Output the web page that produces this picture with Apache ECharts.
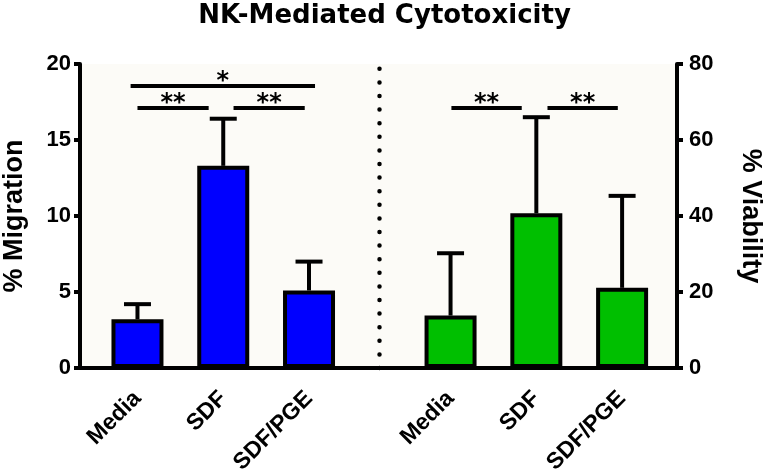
<!DOCTYPE html>
<html>
<head>
<meta charset="utf-8">
<script src="https://cdn.jsdelivr.net/npm/echarts@6/dist/echarts.min.js"></script>
<style>html,body{margin:0;padding:0;background:#fff}#c{width:769px;height:476px}</style>
</head>
<body>
<div id="c"></div>
<script>
const titleText = 'NK-Mediated Cytotoxicity';
const categories = ['Media', 'SDF', 'SDF/PGE', 'Media', 'SDF', 'SDF/PGE'];
const xPositions = [1, 2, 3, 4.65, 5.65, 6.65];
const dividerX = 3.82;
const migrationMean = [3.2, 13.3, 5.1];
const migrationUpper = [4.2, 16.4, 7.0];
const viabilityMean = [13.8, 40.7, 21.1];
const viabilityUpper = [30.2, 66.0, 45.3];
const sigLeft = [
  { from: 0.92, to: 3.07, y: 18.6, label: '*' },
  { from: 1.0, to: 1.83, y: 17.1, label: '**' },
  { from: 2.12, to: 2.95, y: 17.1, label: '**' }
];
const sigRight = [
  { from: 4.66, to: 5.48, y: 68.5, label: '**' },
  { from: 5.78, to: 6.6, y: 68.5, label: '**' }
];

const WIDE = 'DejaVu Sans';
const ARIAL = 'Liberation Sans';
const chart = echarts.init(document.getElementById('c'));

function barData(xs, ys) { return xs.map((x, i) => [x, ys[i]]); }
function errData(xs, m, u) { return xs.map((x, i) => [x, m[i], u[i]]); }

function errRender(params, api) {
  const x = api.value(0), m = api.value(1), u = api.value(2);
  const p0 = api.coord([x, m]);
  const p1 = api.coord([x, u]);
  const hw = 13.5;
  const st = { stroke: '#000', lineWidth: 4 };
  return {
    type: 'group',
    children: [
      { type: 'line', shape: { x1: p0[0], y1: p0[1], x2: p1[0], y2: p1[1] }, style: st },
      { type: 'line', shape: { x1: p1[0] - hw, y1: p1[1], x2: p1[0] + hw, y2: p1[1] }, style: st }
    ]
  };
}

function sigLines(list) {
  return list.map(s => [
    { coord: [s.from, s.y], label: { formatter: s.label } },
    { coord: [s.to, s.y] }
  ]);
}

const sigLabel = {
  show: true, position: 'middle', distance: -8,
  color: '#000', fontFamily: WIDE, fontWeight: 'bold', fontSize: 24
};

const leftX = xPositions.slice(0, 3);
const rightX = xPositions.slice(3);

chart.setOption({
  animation: false,
  backgroundColor: '#ffffff',
  title: {
    text: titleText, left: 'center', top: -2,
    textStyle: { fontFamily: WIDE, fontWeight: 'bold', fontSize: 26, color: '#000' }
  },
  grid: {
    left: 80, right: 92, top: 64, bottom: 108,
    containLabel: false, outerBoundsMode: 'none',
    show: true, backgroundColor: '#fcfbf7', borderWidth: 0
  },
  xAxis: {
    type: 'value', min: 0.33, max: 7.29,
    splitLine: { show: false },
    axisTick: { show: false },
    axisLine: { show: true, onZero: false, lineStyle: { color: '#000', width: 4 } },
    axisLabel: {
      customValues: xPositions,
      formatter: (v) => { const i = xPositions.findIndex(p => Math.abs(p - v) < 1e-6); return i >= 0 ? categories[i] : ''; },
      rotate: 45, margin: 27,
      fontFamily: ARIAL, fontWeight: 'bold', fontSize: 23, color: '#000'
    }
  },
  yAxis: [
    {
      type: 'value', min: 0, max: 20, interval: 5, position: 'left',
      name: '% Migration', nameLocation: 'middle', nameGap: 52,
      nameTextStyle: { fontFamily: ARIAL, fontWeight: 'bold', fontSize: 27, color: '#000' },
      splitLine: { show: false },
      axisLine: { show: true, lineStyle: { color: '#000', width: 4 } },
      axisTick: { show: true, length: 6, lineStyle: { color: '#000', width: 4 } },
      axisLabel: { margin: 9, fontFamily: ARIAL, fontWeight: 'bold', fontSize: 22, color: '#000' }
    },
    {
      type: 'value', min: 0, max: 80, interval: 20, position: 'right',
      name: '% Viability', nameLocation: 'middle', nameGap: 60, nameRotate: -90,
      nameTextStyle: { fontFamily: ARIAL, fontWeight: 'bold', fontSize: 27, color: '#000' },
      splitLine: { show: false },
      axisLine: { show: true, lineStyle: { color: '#000', width: 4 } },
      axisTick: { show: true, length: 6, lineStyle: { color: '#000', width: 4 } },
      axisLabel: { margin: 12, fontFamily: ARIAL, fontWeight: 'bold', fontSize: 22, color: '#000' }
    }
  ],
  series: [
    {
      type: 'bar', yAxisIndex: 0, barWidth: 52, barGap: '-100%',
      data: barData(leftX, migrationMean),
      itemStyle: { color: '#0000ff', borderColor: '#000', borderWidth: 4 },
      markLine: {
        silent: true, symbol: 'none', animation: false,
        lineStyle: { color: '#000', width: 4, type: 'solid' },
        label: sigLabel,
        data: sigLines(sigLeft)
      }
    },
    {
      type: 'bar', yAxisIndex: 1, barWidth: 52, barGap: '-100%',
      data: barData(rightX, viabilityMean),
      itemStyle: { color: '#00bf00', borderColor: '#000', borderWidth: 4 },
      markLine: {
        silent: true, symbol: 'none', animation: false,
        lineStyle: { color: '#000', width: 4, type: 'solid' },
        label: sigLabel,
        data: sigLines(sigRight).concat([
          [{ coord: [dividerX, 0], label: { show: false }, lineStyle: { type: [0, 13.6], width: 4.5, cap: 'round' } },
           { coord: [dividerX, 80] }]
        ])
      }
    },
    {
      type: 'custom', yAxisIndex: 0, renderItem: errRender,
      data: errData(leftX, migrationMean, migrationUpper), z: 1
    },
    {
      type: 'custom', yAxisIndex: 1, renderItem: errRender,
      data: errData(rightX, viabilityMean, viabilityUpper), z: 1
    }
  ]
});
</script>
</body>
</html>
